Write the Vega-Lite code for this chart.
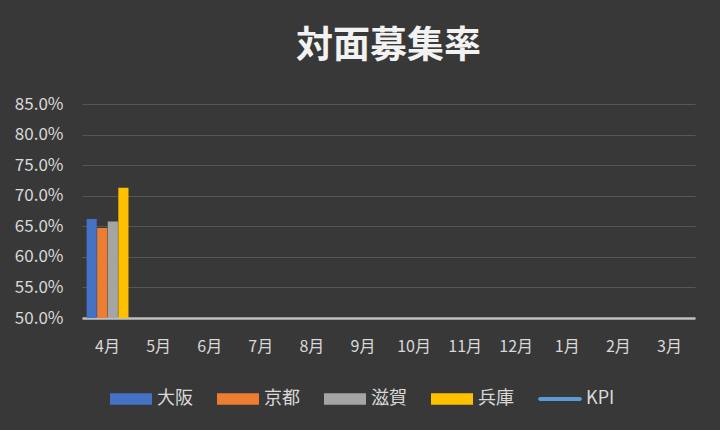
{
  "$schema": "https://vega.github.io/schema/vega-lite/v6.json",
  "width": 613,
  "height": 214,
  "autosize": {"type": "pad"},
  "padding": {"left": 14, "right": 26, "top": 28, "bottom": 24},
  "background": "#383838",
  "title": {
    "text": "対面募集率",
    "font": "Noto Sans CJK JP",
    "fontSize": 37,
    "fontWeight": "bold",
    "color": "#f2f2f2",
    "offset": 29
  },
  "data": {
    "values": [
      {"month": "4月", "region": "大阪", "rate": 0.662},
      {"month": "4月", "region": "京都", "rate": 0.647},
      {"month": "4月", "region": "滋賀", "rate": 0.658},
      {"month": "4月", "region": "兵庫", "rate": 0.713}
    ]
  },
  "encoding": {
    "x": {
      "field": "month",
      "type": "nominal",
      "sort": null,
      "title": null,
      "scale": {
        "domain": ["4月", "5月", "6月", "7月", "8月", "9月", "10月", "11月", "12月", "1月", "2月", "3月"],
        "paddingInner": 0.18,
        "paddingOuter": 0.09
      },
      "axis": {
        "labelAngle": 0,
        "labelFont": "Noto Sans CJK JP",
        "labelFontSize": 16,
        "labelColor": "#d9d9d9",
        "labelPadding": 20,
        "ticks": false,
        "domainColor": "#bfbfbf",
        "domainWidth": 2.5,
        "grid": false
      }
    },
    "y": {
      "field": "rate",
      "type": "quantitative",
      "title": null,
      "scale": {"domain": [0.5, 0.85], "zero": false, "nice": false},
      "axis": {
        "values": [0.5, 0.55, 0.6, 0.65, 0.7, 0.75, 0.8, 0.85],
        "format": ".1%",
        "labelFont": "Noto Sans CJK JP",
        "labelFontSize": 17,
        "labelColor": "#d9d9d9",
        "labelPadding": 19,
        "ticks": false,
        "domain": false,
        "gridColor": "#575757",
        "gridWidth": 1
      }
    },
    "color": {
      "field": "region",
      "type": "nominal",
      "title": null,
      "scale": {
        "domain": ["大阪", "京都", "滋賀", "兵庫", "KPI"],
        "range": ["#4472C4", "#ED7D31", "#A5A5A5", "#FFC000", "#5B9BD5"]
      },
      "legend": {
        "orient": "none",
        "direction": "horizontal",
        "legendX": 28,
        "legendY": 274,
        "labelFont": "Noto Sans CJK JP",
        "labelFontSize": 18,
        "labelColor": "#d9d9d9",
        "labelOffset": 5,
        "columnPadding": 24,
        "symbolSize": 1764,
        "symbolStrokeWidth": 0,
        "symbolOpacity": 1
      }
    }
  },
  "layer": [
    {
      "mark": {"type": "bar", "opacity": 1},
      "encoding": {
        "y2": {"datum": 0.5},
        "xOffset": {
          "field": "region",
          "type": "nominal",
          "scale": {"domain": ["大阪", "京都", "滋賀", "兵庫"], "paddingInner": 0.04}
        }
      }
    },
    {
      "transform": [{"filter": "false"}],
      "mark": {"type": "point", "filled": true, "opacity": 1},
      "encoding": {
        "shape": {
          "field": "region",
          "type": "nominal",
          "title": null,
          "scale": {
            "domain": ["大阪", "京都", "滋賀", "兵庫", "KPI"],
            "range": [
              "M-1,-0.27H1V0.27H-1Z",
              "M-1,-0.27H1V0.27H-1Z",
              "M-1,-0.27H1V0.27H-1Z",
              "M-1,-0.27H1V0.27H-1Z",
              "M-0.95,-0.09H0.95A0.09,0.09,0,0,1,0.95,0.09H-0.95A0.09,0.09,0,0,1,-0.95,-0.09Z"
            ]
          }
        }
      }
    }
  ],
  "config": {
    "view": {"stroke": null},
    "font": "Noto Sans CJK JP"
  }
}
